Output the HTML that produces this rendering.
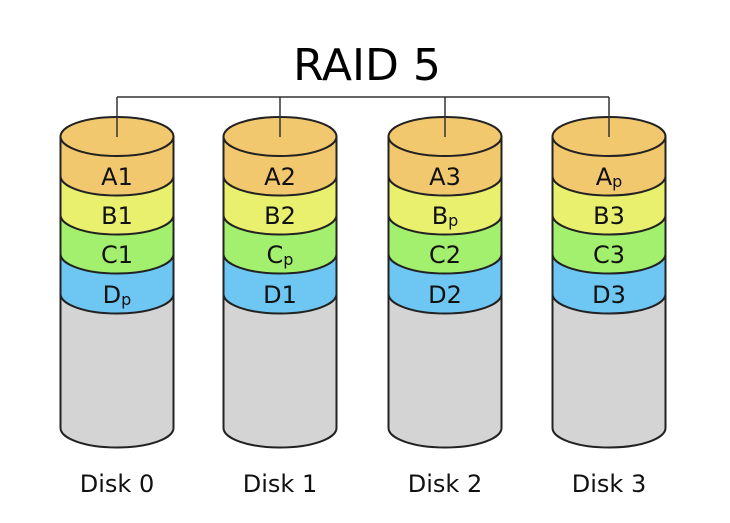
<!DOCTYPE html>
<html><head><meta charset="utf-8"><style>body{margin:0;background:#fff}</style></head><body>
<svg width="730" height="518" xmlns="http://www.w3.org/2000/svg" xmlns:xlink="http://www.w3.org/1999/xlink" font-family="DejaVu Sans, Liberation Sans, sans-serif">
<defs>
<g id="d" stroke="#222" stroke-width="2">
<path d="M-56.5,294 L-56.5,428 A56.5,19.5 0 0 0 56.5,428 L56.5,294 Z" fill="#d4d4d4"/>
<path d="M-56.5,254 L-56.5,294 A56.5,19.5 0 0 0 56.5,294 L56.5,254 Z" fill="#6ec6f2"/>
<path d="M-56.5,215 L-56.5,254 A56.5,19.5 0 0 0 56.5,254 L56.5,215 Z" fill="#a3f06e"/>
<path d="M-56.5,176 L-56.5,215 A56.5,19.5 0 0 0 56.5,215 L56.5,176 Z" fill="#e8f06e"/>
<path d="M-56.5,136.5 L-56.5,176 A56.5,19.5 0 0 0 56.5,176 L56.5,136.5 Z" fill="#f2c86e"/>
<ellipse cx="0" cy="136.5" rx="56.5" ry="19.5" fill="#f2c86e"/>
<line x1="0" y1="97" x2="0" y2="137" stroke="#333" stroke-width="1.5"/>
</g>
</defs>
<rect width="730" height="518" fill="#fff"/>
<text x="367" y="80" font-size="44" text-anchor="middle">RAID 5</text>
<use xlink:href="#d" href="#d" x="117"/>
<use xlink:href="#d" href="#d" x="280"/>
<use xlink:href="#d" href="#d" x="445"/>
<use xlink:href="#d" href="#d" x="609"/>
<line x1="117" y1="97" x2="609" y2="97" stroke="#333" stroke-width="1.5"/>
<g font-size="24" text-anchor="middle" fill="#111">
<text x="117" y="185">A1</text><text x="117" y="224">B1</text><text x="117" y="263">C1</text><text x="117" y="303">D<tspan font-size="16" dy="2">p</tspan></text>
<text x="280" y="185">A2</text><text x="280" y="224">B2</text><text x="280" y="263">C<tspan font-size="16" dy="2">p</tspan></text><text x="280" y="303">D1</text>
<text x="445" y="185">A3</text><text x="445" y="224">B<tspan font-size="16" dy="2">p</tspan></text><text x="445" y="263">C2</text><text x="445" y="303">D2</text>
<text x="609" y="185">A<tspan font-size="16" dy="2">p</tspan></text><text x="609" y="224">B3</text><text x="609" y="263">C3</text><text x="609" y="303">D3</text>
<text x="117" y="492">Disk 0</text><text x="280" y="492">Disk 1</text><text x="445" y="492">Disk 2</text><text x="609" y="492">Disk 3</text>
</g>
</svg>
</body></html>
